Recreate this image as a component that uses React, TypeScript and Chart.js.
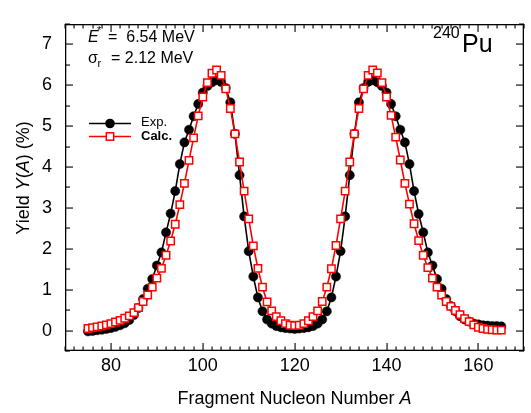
import React, { useEffect, useRef } from "react";
import { Chart, registerables } from "chart.js";

Chart.register(...registerables);

const FONT = '"Liberation Sans", Arial, Helvetica, sans-serif';

// Fragment mass numbers A
const massNumbers = [
  75, 76, 77, 78, 79, 80, 81, 82, 83, 84, 85, 86, 87, 88, 89, 90, 91, 92, 93, 94,
  95, 96, 97, 98, 99, 100, 101, 102, 103, 104, 105, 106, 107, 108, 109, 110, 111, 112, 113, 114,
  115, 116, 117, 118, 119, 120, 121, 122, 123, 124, 125, 126, 127, 128, 129, 130, 131, 132, 133, 134,
  135, 136, 137, 138, 139, 140, 141, 142, 143, 144, 145, 146, 147, 148, 149, 150, 151, 152, 153, 154,
  155, 156, 157, 158, 159, 160, 161, 162, 163, 164, 165,
];

// Experimental yields (%)
const expYield = [
  -0.02, -0.01, 0.01, 0.02, 0.04, 0.06, 0.09, 0.13, 0.18, 0.26, 0.38, 0.55, 0.77, 1.02, 1.26, 1.59, 1.91, 2.4, 2.86, 3.41,
  4.07, 4.6, 4.91, 5.24, 5.54, 5.82, 5.98, 6.07, 6.12, 6.08, 5.93, 5.58, 4.81, 3.8, 2.79, 1.94, 1.32, 0.81, 0.47, 0.27,
  0.17, 0.11, 0.08, 0.06, 0.05, 0.04, 0.05, 0.06, 0.08, 0.11, 0.17, 0.27, 0.47, 0.81, 1.32, 1.94, 2.79, 3.8, 4.81, 5.58,
  5.93, 6.08, 6.12, 6.07, 5.98, 5.82, 5.54, 5.24, 4.91, 4.6, 4.07, 3.41, 2.85, 2.4, 1.91, 1.59, 1.26, 1.02, 0.77, 0.6,
  0.47, 0.35, 0.27, 0.22, 0.17, 0.15, 0.13, 0.12, 0.11, 0.11, 0.1,
];

// Calculated yields (%)
const calcYield = [
  0.05, 0.07, 0.09, 0.11, 0.14, 0.17, 0.21, 0.25, 0.3, 0.36, 0.44, 0.56, 0.71, 0.87, 1.06, 1.28, 1.52, 1.84, 2.19, 2.6,
  3.08, 3.6, 4.16, 4.71, 5.25, 5.71, 6.06, 6.29, 6.37, 6.24, 5.91, 5.43, 4.81, 4.12, 3.41, 2.73, 2.07, 1.52, 1.06, 0.7,
  0.48, 0.34, 0.24, 0.17, 0.13, 0.12, 0.13, 0.17, 0.24, 0.34, 0.48, 0.71, 1.06, 1.51, 2.08, 2.73, 3.41, 4.12, 4.81, 5.43,
  5.91, 6.24, 6.37, 6.3, 6.06, 5.71, 5.26, 4.73, 4.17, 3.6, 3.09, 2.61, 2.2, 1.84, 1.54, 1.28, 1.06, 0.87, 0.71, 0.59,
  0.49, 0.39, 0.29, 0.22, 0.14, 0.08, 0.05, 0.03, 0.02, 0.01, 0.01,
];

const xTickValues = [80, 100, 120, 140, 160];
const yTickValues = [0, 1, 2, 3, 4, 5, 6, 7];
const xRange = [70, 170];
const yRange = [-0.5, 7.5];
const xMinorStep = 2;
const yMinorStep = 0.5;

function drawParts(ctx: CanvasRenderingContext2D, parts: { t: string; font: string; dy?: number }[], x: number, y: number) {
  let cx = x;
  for (const p of parts) {
    ctx.font = p.font;
    ctx.fillText(p.t, cx, y + (p.dy || 0));
    cx += ctx.measureText(p.t).width;
  }
}
function partsWidth(ctx: CanvasRenderingContext2D, parts: { t: string; font: string }[]) {
  let w = 0;
  for (const p of parts) {
    ctx.font = p.font;
    w += ctx.measureText(p.t).width;
  }
  return w;
}

const overlayPlugin = {
  id: "overlay",
  afterDraw(chart: any) {
    const ctx: CanvasRenderingContext2D = chart.ctx;
    const ca = chart.chartArea;
    const left = Math.round(ca.left);
    const right = Math.round(ca.right);
    const top = Math.round(ca.top);
    const bottom = Math.round(ca.bottom);
    const xs = chart.scales.x;
    const ys = chart.scales.y;
    ctx.save();
    ctx.globalAlpha = 1;
    ctx.fillStyle = "#000";
    const lw = 1.3;
    // frame
    ctx.fillRect(left, top, right - left, lw);
    ctx.fillRect(left, bottom - lw, right - left, lw);
    ctx.fillRect(left, top, lw, bottom - top);
    ctx.fillRect(right - lw, top, lw, bottom - top);

    // ticks
    for (let v = xRange[0]; v <= xRange[1] + 1e-9; v += xMinorStep) {
      const px = Math.round(xs.getPixelForValue(v));
      const len = xTickValues.includes(v) ? 8 : 4.5;
      ctx.fillRect(px - 0.5, bottom - len, 1.1, len);
      ctx.fillRect(px - 0.5, top, 1.1, len);
    }
    for (let v = yRange[0]; v <= yRange[1] + 1e-9; v += yMinorStep) {
      const py = Math.round(ys.getPixelForValue(v));
      const len = yTickValues.includes(v) ? 8 : 5;
      ctx.fillRect(left, py - 0.5, len, 1.1);
      ctx.fillRect(right - len, py - 0.5, len, 1.1);
    }

    ctx.fillStyle = "#000";
    ctx.textBaseline = "alphabetic";
    ctx.textAlign = "left";

    // Annotations
    ctx.font = `italic 16px ${FONT}`;
    ctx.fillText("E", 88, 42);
    ctx.font = `11px ${FONT}`;
    ctx.fillText("*", 97, 34);
    ctx.font = `16px ${FONT}`;
    ctx.fillText("=  6.54 MeV", 108, 42);

    ctx.font = `16px ${FONT}`;
    ctx.fillText("\u03c3", 88, 63);
    ctx.font = `11px ${FONT}`;
    ctx.fillText("r", 97.5, 67);
    ctx.font = `16px ${FONT}`;
    ctx.fillText("= 2.12 MeV", 111, 63);

    ctx.font = `16px ${FONT}`;
    ctx.fillText("240", 433, 38);
    ctx.font = `25px ${FONT}`;
    ctx.fillText("Pu", 462, 52);

    // Legend
    const legendX0 = 89, legendX1 = 131, markX = 110;
    const ly1 = 123.5, ly2 = 136.5;
    ctx.lineWidth = 1.6;
    ctx.strokeStyle = "#000";
    ctx.beginPath();
    ctx.moveTo(legendX0, ly1);
    ctx.lineTo(legendX1, ly1);
    ctx.stroke();
    ctx.beginPath();
    ctx.arc(markX, ly1, 4.8, 0, Math.PI * 2);
    ctx.fill();
    ctx.strokeStyle = "#ff0000";
    ctx.beginPath();
    ctx.moveTo(legendX0, ly2);
    ctx.lineTo(legendX1, ly2);
    ctx.stroke();
    ctx.fillStyle = "#fff";
    ctx.lineWidth = 1.5;
    ctx.fillRect(markX - 3.7, ly2 - 3.7, 7.4, 7.4);
    ctx.strokeRect(markX - 3.7, ly2 - 3.7, 7.4, 7.4);
    ctx.fillStyle = "#000";
    ctx.textBaseline = "middle";
    ctx.font = `13px ${FONT}`;
    ctx.fillText("Exp.", 141, ly1 - 1);
    ctx.font = `bold 13px ${FONT}`;
    ctx.fillText("Calc.", 141, ly2);

    // X title
    ctx.textBaseline = "alphabetic";
    const xParts = [
      { t: "Fragment Nucleon Number ", font: `18px ${FONT}` },
      { t: "A", font: `italic 18px ${FONT}` },
    ];
    const xw = partsWidth(ctx, xParts);
    drawParts(ctx, xParts, (left + right) / 2 - xw / 2, 404);

    // Y title
    const yParts = [
      { t: "Yield ", font: `18px ${FONT}` },
      { t: "Y", font: `italic 18px ${FONT}` },
      { t: "(", font: `18px ${FONT}` },
      { t: "A", font: `italic 18px ${FONT}` },
      { t: ") (%)", font: `18px ${FONT}` },
    ];
    const yw = partsWidth(ctx, yParts);
    ctx.save();
    ctx.translate(29, 178);
    ctx.rotate(-Math.PI / 2);
    drawParts(ctx, yParts, -yw / 2, 0);
    ctx.restore();

    ctx.restore();
  },
};

export default function App() {
  const canvasRef = useRef<HTMLCanvasElement | null>(null);

  useEffect(() => {
    const canvas = canvasRef.current;
    if (!canvas) return;
    const expPoints = massNumbers.map((a, i) => ({ x: a, y: expYield[i] }));
    const calcPoints = massNumbers.map((a, i) => ({ x: a, y: calcYield[i] }));

    const chart = new Chart(canvas, {
      type: "line",
      data: {
        datasets: [
          {
            label: "Exp.",
            data: expPoints,
            borderColor: "#000",
            backgroundColor: "#000",
            pointBackgroundColor: "#000",
            pointBorderColor: "#000",
            pointStyle: "circle",
            pointRadius: 4.6,
            pointBorderWidth: 0.5,
            borderWidth: 1.6,
            tension: 0,
            order: 1,
          },
          {
            label: "Calc.",
            data: calcPoints,
            borderColor: "#ff0000",
            backgroundColor: "#ffffff",
            pointBackgroundColor: "#ffffff",
            pointBorderColor: "#ff0000",
            pointStyle: "rect",
            pointRadius: 5.2,
            pointBorderWidth: 1.5,
            borderWidth: 1.6,
            tension: 0,
            order: 0,
          },
        ],
      },
      options: {
        responsive: false,
        animation: false,
        events: [],
        layout: { padding: { top: 9, right: 6, left: 0, bottom: 0 } },
        plugins: { legend: { display: false }, tooltip: { enabled: false } },
        scales: {
          x: {
            type: "linear",
            min: xRange[0],
            max: xRange[1],
            grid: { display: false, drawTicks: false },
            border: { display: false },
            ticks: { color: "#000", font: { family: FONT, size: 18 }, padding: 4, maxRotation: 0 },
            afterBuildTicks: (s: any) => {
              s.ticks = xTickValues.map((v) => ({ value: v }));
            },
            afterFit: (s: any) => {
              s.height = 62;
            },
          },
          y: {
            type: "linear",
            min: yRange[0],
            max: yRange[1],
            grid: { display: false, drawTicks: false },
            border: { display: false },
            ticks: { color: "#000", font: { family: FONT, size: 18 }, padding: 13 },
            afterBuildTicks: (s: any) => {
              s.ticks = yTickValues.map((v) => ({ value: v }));
            },
            afterFit: (s: any) => {
              s.width = 65;
            },
          },
        },
      },
      plugins: [overlayPlugin],
    });
    return () => chart.destroy();
  }, []);

  return (
    <div style={{ position: "absolute", left: 0, top: 0, width: 531, height: 413, background: "#fff" }}>
      <canvas ref={canvasRef} width={531} height={413} style={{ display: "block" }} />
    </div>
  );
}
